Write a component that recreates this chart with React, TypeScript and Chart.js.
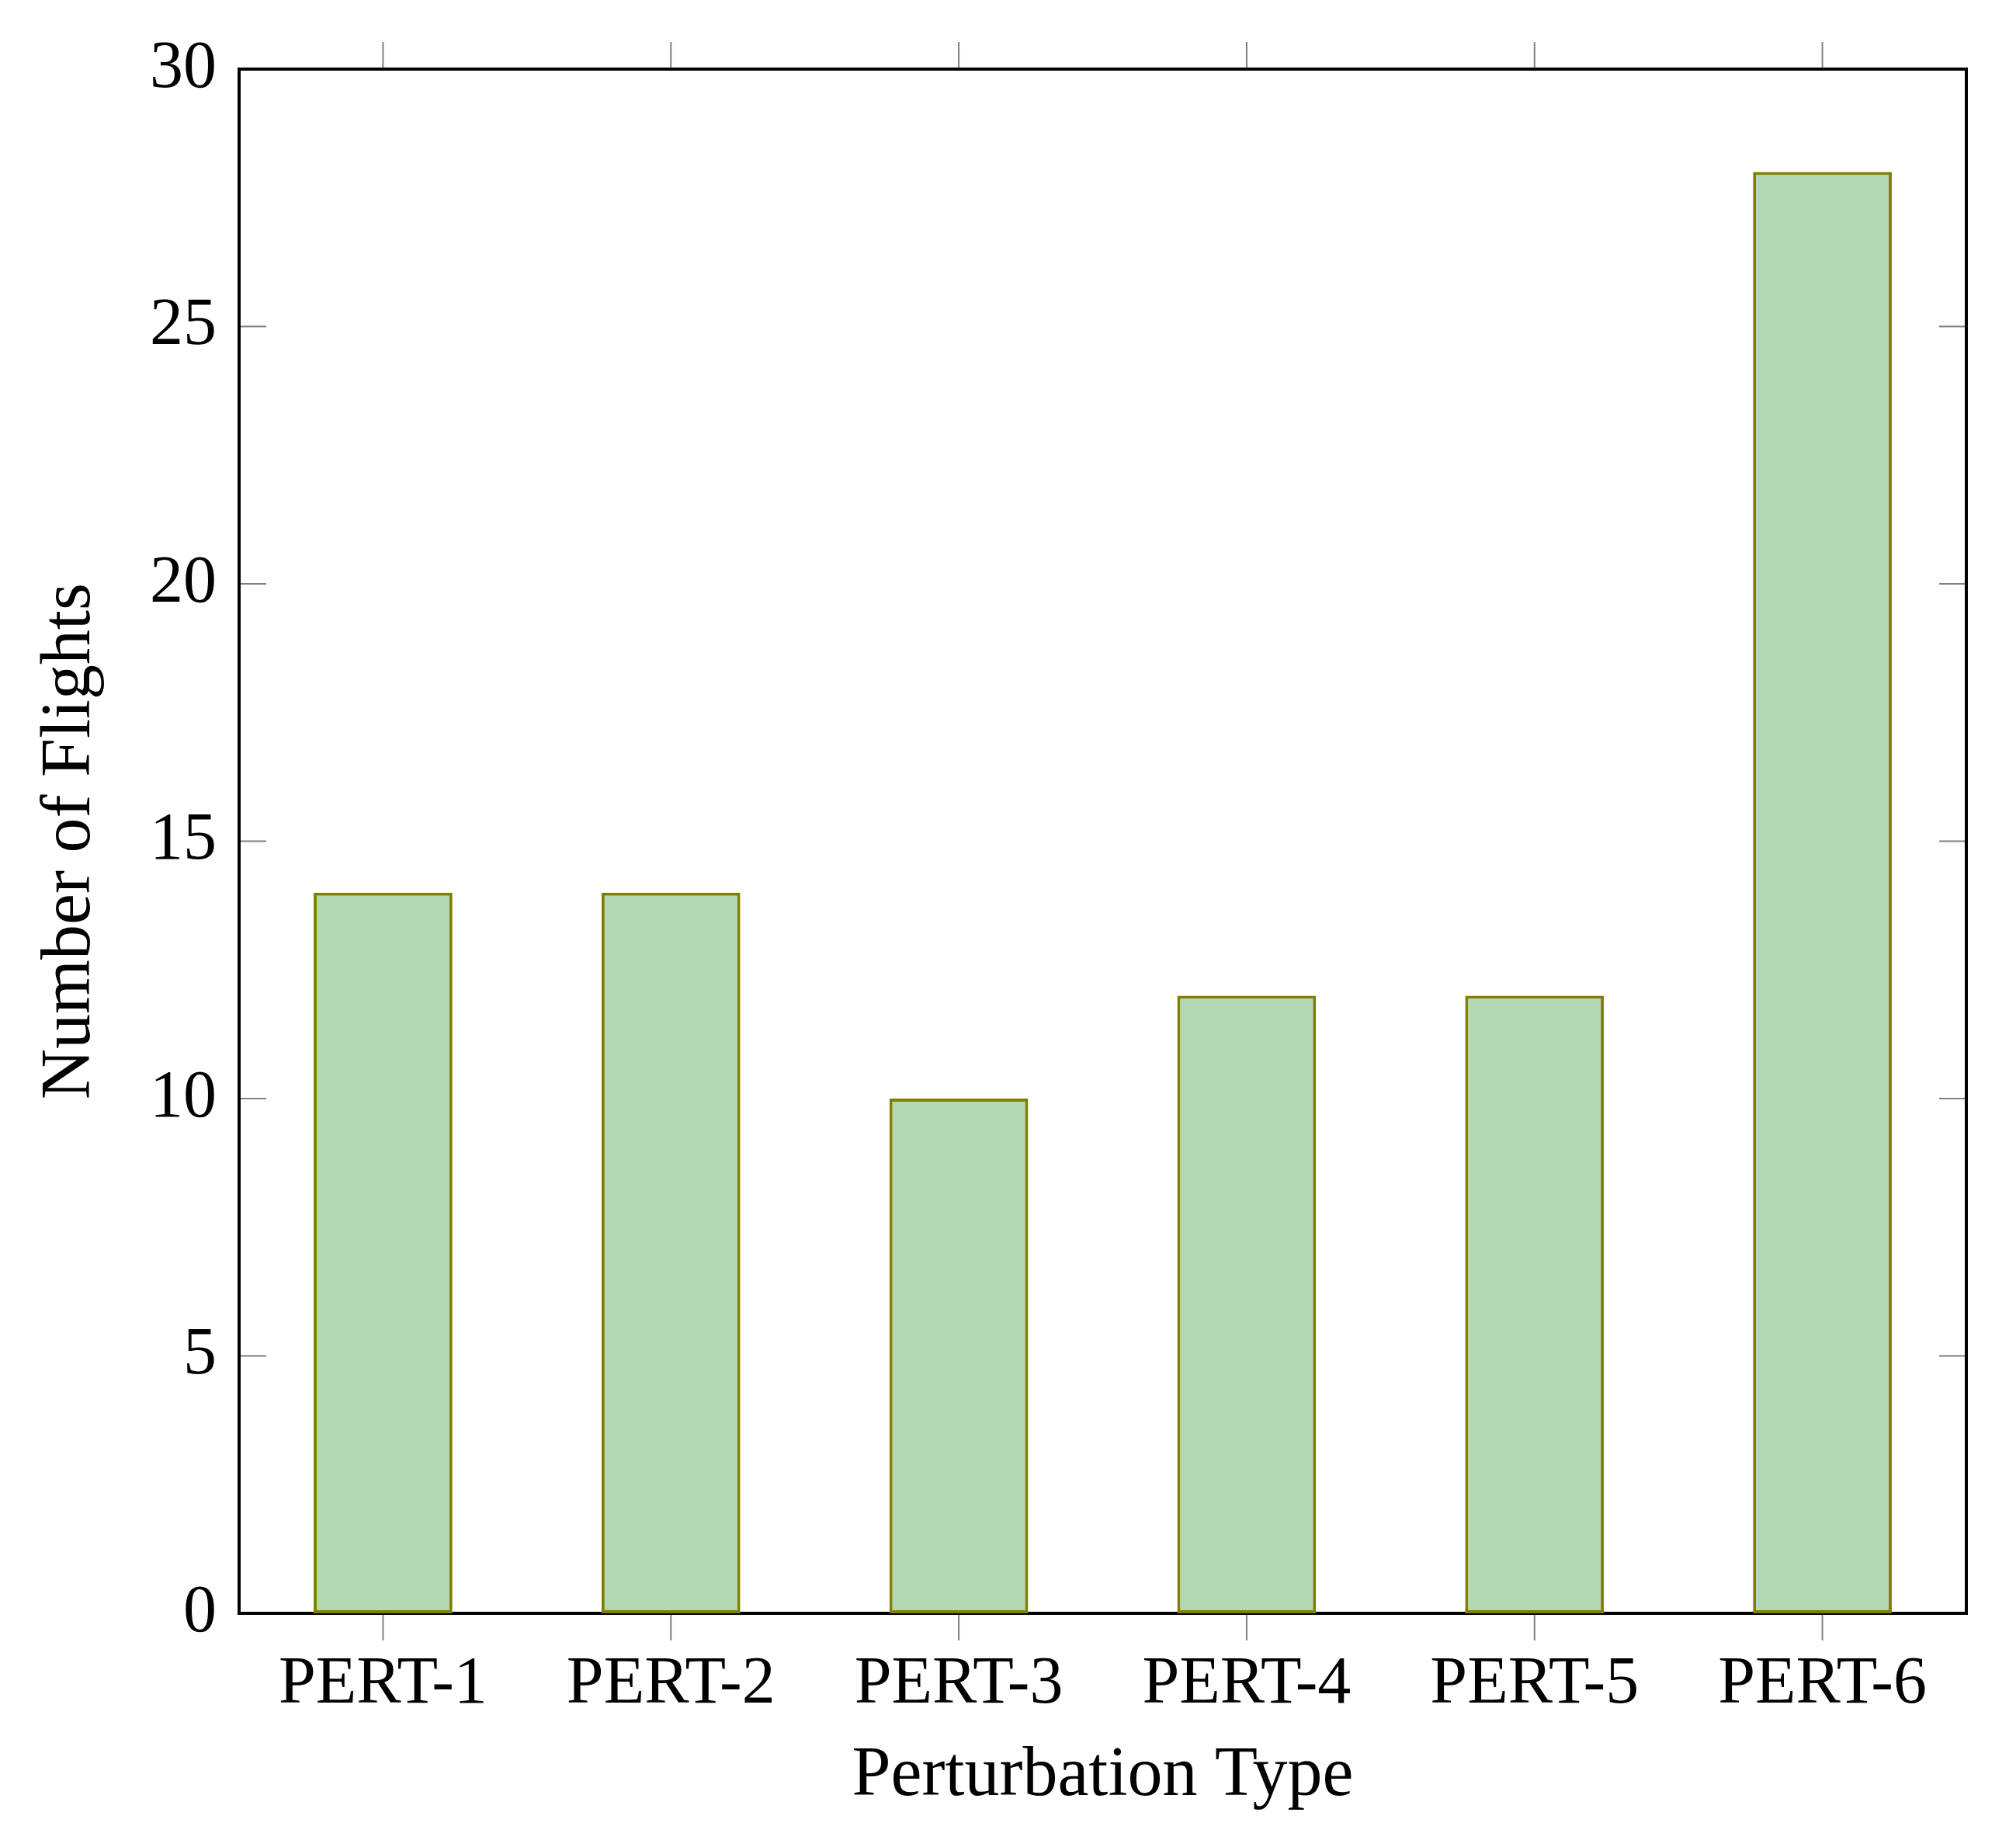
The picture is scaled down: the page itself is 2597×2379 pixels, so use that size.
import React, { useEffect, useRef } from "react";
import { Chart, registerables } from "chart.js";

Chart.register(...registerables);

const categories = ["PERT-1", "PERT-2", "PERT-3", "PERT-4", "PERT-5", "PERT-6"];
const flights = [14, 14, 10, 12, 12, 28];
const yTickValues = [0, 5, 10, 15, 20, 25, 30];
const xAxisTitle = "Perturbation Type";
const yAxisTitle = "Number of Flights";

const FONT = "'Liberation Serif', 'Times New Roman', serif";

const framePlugin = {
  id: "frameTicks",
  beforeDatasetsDraw(chart: any) {
    const { ctx, chartArea, scales } = chart;
    const { left, right, top, bottom } = chartArea;
    const tl = 35;
    ctx.save();
    ctx.strokeStyle = "#808080";
    ctx.lineWidth = 2;
    ctx.beginPath();
    const xs = scales.x;
    categories.forEach((_, i) => {
      const px = xs.getPixelForValue(i);
      ctx.moveTo(px, bottom);
      ctx.lineTo(px, bottom + tl);
      ctx.moveTo(px, top);
      ctx.lineTo(px, top - tl);
    });
    const ys = scales.y;
    yTickValues.forEach((v) => {
      const py = ys.getPixelForValue(v);
      ctx.moveTo(left, py);
      ctx.lineTo(left + tl, py);
      ctx.moveTo(right, py);
      ctx.lineTo(right - tl, py);
    });
    ctx.stroke();
    ctx.strokeStyle = "#000000";
    ctx.lineWidth = 4;
    ctx.strokeRect(left, top, right - left, bottom - top);
    ctx.restore();
  },
};

export default function App() {
  const ref = useRef<HTMLCanvasElement | null>(null);
  useEffect(() => {
    if (!ref.current) return;
    const chart = new Chart(ref.current, {
      type: "bar",
      data: {
        labels: categories,
        datasets: [
          {
            data: flights,
            backgroundColor: "#b3d9b2",
            borderColor: "#808000",
            borderWidth: 4,
            borderSkipped: false,
            barPercentage: 1,
            categoryPercentage: 0.482,
          },
        ],
      },
      options: {
        responsive: false,
        animation: false,
        devicePixelRatio: 1,
        layout: { padding: { top: 81, right: 56, left: 0, bottom: 0 } },
        plugins: { legend: { display: false }, tooltip: { enabled: false } },
        scales: {
          x: {
            type: "category",
            grid: { display: false, drawTicks: false },
            border: { display: false },
            ticks: {
              color: "#000",
              padding: 41,
              font: { family: FONT, size: 86 },
              maxRotation: 0,
              autoSkip: false,
            },
            title: {
              display: true,
              text: xAxisTitle,
              color: "#000",
              font: { family: FONT, size: 90 },
              padding: { top: 0, bottom: 29 },
            },
            afterFit: (s: any) => {
              s.height = 293;
            },
          },
          y: {
            min: 0,
            max: 30,
            grid: { display: false, drawTicks: false },
            border: { display: false },
            afterBuildTicks: (s: any) => {
              s.ticks = yTickValues.map((v) => ({ value: v }));
            },
            ticks: {
              color: "#000",
              padding: 29,
              font: { family: FONT, size: 86 },
            },
            title: {
              display: true,
              text: yAxisTitle,
              color: "#000",
              font: { family: FONT, size: 90 },
              padding: { top: 29, bottom: 0 },
            },
            afterFit: (s: any) => {
              s.width = 300;
            },
          },
        },
      },
      plugins: [framePlugin],
    });
    return () => chart.destroy();
  }, []);
  return (
    <canvas
      ref={ref}
      width={2581}
      height={2363}
      style={{ display: "block", width: 2581, height: 2363 }}
    />
  );
}
